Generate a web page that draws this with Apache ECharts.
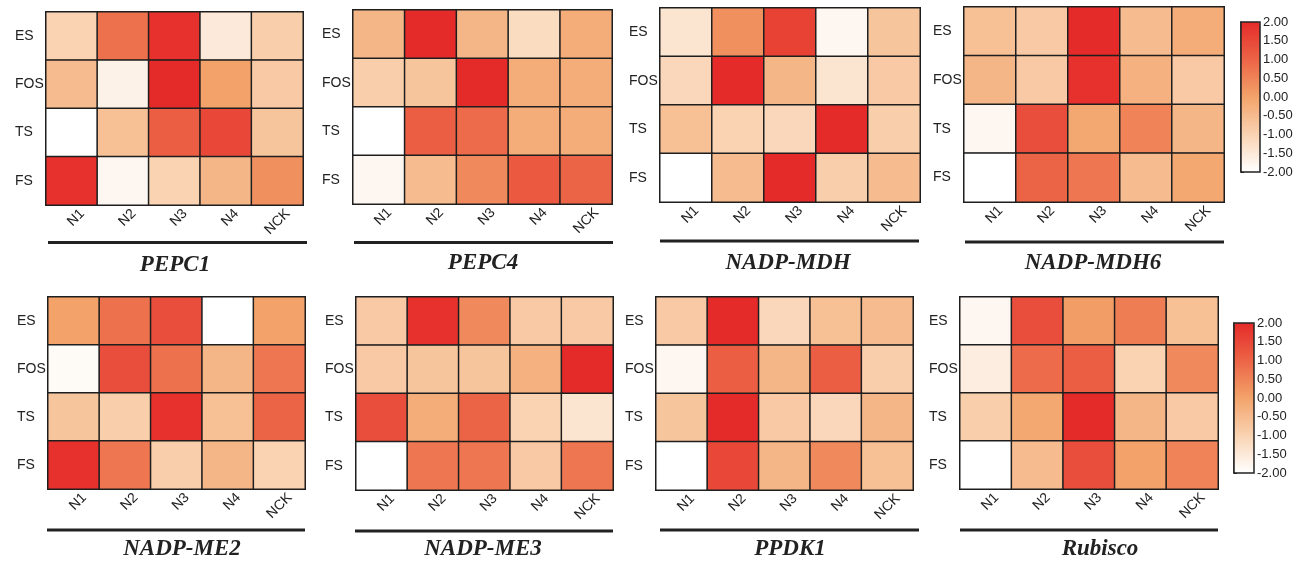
<!DOCTYPE html>
<html lang="en">
  <head>
    <meta charset="UTF-8" />
    <title>热图</title>
    <script src="https://cdn.jsdelivr.net/npm/echarts@6/dist/echarts.min.js"></script>
    <style>
      html, body { margin: 0; padding: 0; background: #fff; }
    </style>
  </head>
  <body>
    <div id="main" style="width: 1313px; height: 565px"></div>
    <script>
      // 坐标轴类别
      var xCats = ['N1', 'N2', 'N3', 'N4', 'NCK'];
      var yCats = ['ES', 'FOS', 'TS', 'FS'];
      var legendTicks = [-2, -1.5, -1, -0.5, 0, 0.5, 1, 1.5, 2];

      // 每个基因: 行 = ES, FOS, TS, FS ; 列 = N1..NCK
      var pepc1 = [
        [-1.0, 0.8, 1.9, -1.5, -0.9],
        [-0.5, -1.7, 2.0, 0.0, -0.8],
        [-2.0, -0.6, 1.1, 1.5, -0.7],
        [1.9, -1.8, -1.0, -0.4, 0.3],
      ];
      var pepc4 = [
        [-0.4, 2.0, -0.4, -1.2, -0.2],
        [-0.9, -0.7, 2.0, -0.2, -0.2],
        [-2.0, 1.1, 0.9, -0.2, -0.2],
        [-1.8, -0.5, 0.4, 1.2, 1.0],
      ];
      var nadpMdh = [
        [-1.4, 0.3, 1.6, -1.8, -0.7],
        [-1.1, 2.0, -0.4, -1.4, -0.8],
        [-0.6, -1.0, -1.1, 2.0, -0.9],
        [-2.0, -0.5, 2.0, -0.9, -0.5],
      ];
      var nadpMdh6 = [
        [-0.6, -0.8, 2.0, -0.5, -0.2],
        [-0.4, -0.8, 1.9, -0.3, -0.8],
        [-1.8, 1.4, -0.1, 0.5, -0.4],
        [-2.0, 1.0, 0.7, -0.5, -0.1],
      ];
      var nadpMe2 = [
        [0.0, 0.8, 1.4, -2.0, 0.0],
        [-1.9, 1.4, 0.8, -0.4, 0.7],
        [-0.7, -0.9, 1.9, -0.6, 1.0],
        [1.9, 0.7, -0.9, -0.4, -1.0],
      ];
      var nadpMe3 = [
        [-0.8, 1.9, 0.4, -0.8, -0.8],
        [-0.8, -0.7, -0.7, -0.3, 2.0],
        [1.4, -0.2, 1.0, -1.0, -1.4],
        [-2.0, 0.7, 0.7, -0.8, 0.7],
      ];
      var ppdk1 = [
        [-0.8, 2.0, -1.1, -0.6, -0.5],
        [-1.8, 1.1, -0.4, 1.1, -0.9],
        [-0.7, 2.0, -0.8, -1.1, -0.4],
        [-2.0, 1.5, -0.4, 0.4, -0.6],
      ];
      var rubisco = [
        [-1.8, 1.4, 0.1, 0.6, -0.6],
        [-1.6, 0.9, 1.1, -1.0, 0.4],
        [-0.9, -0.1, 2.0, -0.4, -0.8],
        [-2.0, -0.5, 1.4, 0.0, 0.5],
      ];

      var geneNames = ['PEPC1', 'PEPC4', 'NADP-MDH', 'NADP-MDH6', 'NADP-ME2', 'NADP-ME3', 'PPDK1', 'Rubisco'];
      var geneData = [pepc1, pepc4, nadpMdh, nadpMdh6, nadpMe2, nadpMe3, ppdk1, rubisco];

      // 版面位置 [left, top, width, height]
      var boxes = [
        [46, 12, 257, 193],
        [353, 10, 259, 194],
        [660, 8, 260, 194],
        [964, 7, 260, 195],
        [48, 297, 257, 192],
        [356, 297, 257, 193],
        [656, 297, 257, 193],
        [960, 297, 258, 192],
      ];
      // 下划线 [x1, x2, y] 与标题中心 [x, y]
      var rules = [
        [48, 307, 242.5], [354, 613, 242.5], [660, 919, 241], [965, 1224, 242],
        [47, 305, 530], [355, 613, 531], [660, 919, 530], [960, 1218, 530],
      ];
      var titlePos = [
        [175, 265], [483, 263], [788, 263], [1093, 263],
        [182, 549], [483, 549], [790, 549], [1100, 549],
      ];
      // 色标位置
      var bars = [
        [1241, 22, 19, 150],
        [1234, 323, 20, 150],
      ];

      var colors = ['#ffffff', '#f9d3b2', '#f3a36a', '#ec6446', '#e52b2a'];
      var fontSans = 'Liberation Sans, Arial, sans-serif';

      var grids = [];
      var xAxes = [];
      var yAxes = [];
      var series = [];
      var graphics = [];

      for (var g = 0; g < geneData.length; g++) {
        var b = boxes[g];
        grids.push({ left: b[0], top: b[1], width: b[2], height: b[3] });
        xAxes.push({
          type: 'category',
          gridIndex: g,
          data: xCats,
          axisLine: { show: false },
          axisTick: { show: false },
          splitArea: { show: false },
          axisLabel: {
            rotate: 45,
            margin: 17,
            align: 'center',
            verticalAlign: 'middle',
            color: '#222',
            fontSize: 14,
            fontFamily: fontSans,
            formatter: '{a|{value}}',
            rich: { a: { width: 30, align: 'right', fontSize: 14, color: '#222', fontFamily: fontSans } },
          },
        });
        yAxes.push({
          type: 'category',
          gridIndex: g,
          data: yCats,
          inverse: true,
          axisLine: { show: false },
          axisTick: { show: false },
          splitArea: { show: false },
          axisLabel: {
            align: 'left',
            margin: 31,
            color: '#222',
            fontSize: 14,
            fontFamily: fontSans,
          },
        });
        var cells = [];
        for (var r = 0; r < yCats.length; r++) {
          for (var c = 0; c < xCats.length; c++) {
            cells.push([c, r, geneData[g][r][c]]);
          }
        }
        series.push({
          name: geneNames[g],
          type: 'heatmap',
          xAxisIndex: g,
          yAxisIndex: g,
          data: cells,
          itemStyle: { borderColor: '#1e1e1e', borderWidth: 1.5 },
          emphasis: { disabled: true },
        });

        var ru = rules[g];
        graphics.push({
          type: 'line',
          shape: { x1: ru[0], y1: ru[2], x2: ru[1], y2: ru[2] },
          style: { stroke: '#222', lineWidth: 3 },
        });
        graphics.push({
          type: 'text',
          x: titlePos[g][0],
          y: titlePos[g][1],
          style: {
            text: geneNames[g],
            align: 'center',
            verticalAlign: 'middle',
            font: 'italic bold 23px "Liberation Serif", "Times New Roman", serif',
            fill: '#222',
          },
        });
      }

      // 色标的刻度轴
      var visualMaps = [];
      for (var k = 0; k < bars.length; k++) {
        var bb = bars[k];
        var gi = grids.length;
        grids.push({
          left: bb[0],
          top: bb[1],
          width: bb[2],
          height: bb[3],
          show: true,
          z: 10,
          borderColor: '#222',
          borderWidth: 1.5,
          backgroundColor: 'transparent',
        });
        xAxes.push({ type: 'value', gridIndex: gi, show: false });
        yAxes.push({
          type: 'value',
          gridIndex: gi,
          position: 'right',
          min: legendTicks[0],
          max: legendTicks[legendTicks.length - 1],
          interval: 0.5,
          splitLine: { show: false },
          axisLine: { show: true, lineStyle: { color: '#222', width: 1.5 } },
          axisTick: { show: true, length: 3, lineStyle: { color: '#222' } },
          axisLabel: {
            margin: 3,
            color: '#222',
            fontSize: 13,
            fontFamily: fontSans,
            formatter: function (v) {
              return v.toFixed(2);
            },
          },
        });
        visualMaps.push({
          type: 'continuous',
          min: -2,
          max: 2,
          calculable: false,
          seriesIndex: k === 0 ? [0, 1, 2, 3] : [4, 5, 6, 7],
          left: bb[0],
          top: bb[1],
          itemWidth: bb[2],
          itemHeight: bb[3],
          padding: 0,
          text: null,
          formatter: function () {
            return '';
          },
          inRange: { color: colors },
        });
      }

      var mCharts = echarts.init(document.getElementById('main'));
      var option = {
        backgroundColor: '#fff',
        animation: false,
        grid: grids,
        xAxis: xAxes,
        yAxis: yAxes,
        visualMap: visualMaps,
        series: series,
        graphic: graphics,
      };
      mCharts.setOption(option);
    </script>
  </body>
</html>
